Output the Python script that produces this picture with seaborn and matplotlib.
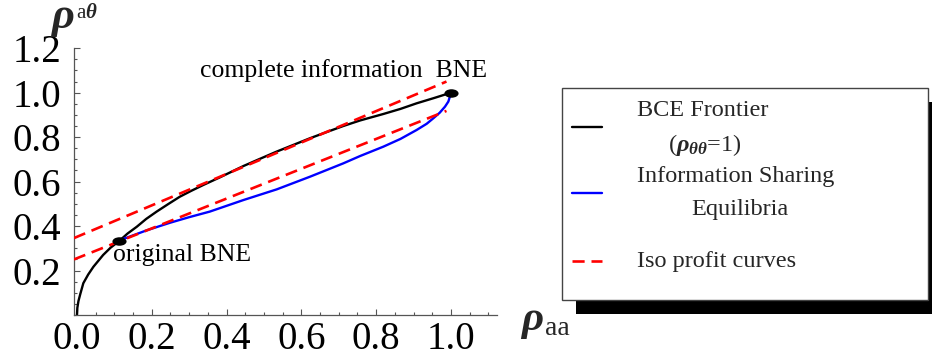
import numpy as np
import matplotlib
matplotlib.use("Agg")
import matplotlib.pyplot as plt
from matplotlib.path import Path
from matplotlib.lines import Line2D
from matplotlib.patches import Rectangle
from matplotlib.ticker import FixedLocator, MultipleLocator, FormatStrFormatter
import seaborn as sns

# ---------------- data ----------------
bce_x = [0.0, 0.001, 0.004, 0.009, 0.017, 0.030, 0.044, 0.07, 0.09, 0.113, 0.135, 0.16,
         0.185, 0.213, 0.245, 0.275, 0.305, 0.338, 0.382, 0.445, 0.490, 0.534, 0.580,
         0.623, 0.668, 0.712, 0.757, 0.819, 0.865, 0.908, 0.955, 1.0]
bce_y = [0.0, 0.032, 0.063, 0.095, 0.143, 0.182, 0.217, 0.27, 0.303, 0.333, 0.366, 0.397,
         0.432, 0.465, 0.500, 0.532, 0.558, 0.585, 0.619, 0.670, 0.703, 0.735, 0.766,
         0.795, 0.823, 0.850, 0.875, 0.904, 0.927, 0.952, 0.976, 1.0]

share_x = [0.113, 0.124, 0.185, 0.249, 0.300, 0.355, 0.445, 0.534, 0.623, 0.712, 0.757,
           0.819, 0.865, 0.908, 0.935, 0.953, 0.970, 0.984, 0.993, 0.997, 1.0]
share_y = [0.333, 0.342, 0.380, 0.415, 0.440, 0.465, 0.517, 0.565, 0.622, 0.682, 0.715,
           0.757, 0.792, 0.832, 0.860, 0.885, 0.910, 0.937, 0.960, 0.982, 1.0]

iso_hi_x = [-0.008, 0.988]
iso_hi_y = [0.346, 1.050]
iso_lo_x = [-0.008, 0.988]
iso_lo_y = [0.250, 0.918]

bne_x = [0.113, 1.0]
bne_y = [0.333, 1.0]

x_ticks = [0.0, 0.2, 0.4, 0.6, 0.8, 1.0]
y_ticks = [0.2, 0.4, 0.6, 0.8, 1.0, 1.2]

legend_labels = ["BCE Frontier", r"($\mathbfit{\rho}_{\mathbfit{\theta\theta}}$=1)",
                 "Information Sharing", "Equilibria", "Iso profit curves"]

# ---------------- style ----------------
sns.set_theme(style="white")
plt.rcParams["font.family"] = ["Liberation Serif", "DejaVu Serif"]
plt.rcParams["mathtext.fontset"] = "custom"
plt.rcParams["mathtext.rm"] = "Liberation Serif"
plt.rcParams["mathtext.it"] = "Liberation Serif:italic"
plt.rcParams["mathtext.bf"] = "Liberation Serif:bold"
plt.rcParams["mathtext.bfit"] = "Liberation Serif:italic:bold"

W, H = 932, 364
fig = plt.figure(figsize=(W / 100, H / 100), dpi=100)
fig.patch.set_facecolor("white")

def fx(px):
    return px / W

def fy(py):
    return 1 - py / H

ax = fig.add_axes([fx(73.6), fy(315), fx(496.6) - fx(73.6), fy(48.2) - fy(315)])
ax.set_facecolor("white")

sns.lineplot(x=bce_x, y=bce_y, ax=ax, color="black", lw=1.7, sort=False,
             estimator=None, zorder=2)
sns.lineplot(x=share_x, y=share_y, ax=ax, color="#0000ff", lw=1.7, sort=False,
             estimator=None, zorder=2)
for xs, ys in [(iso_hi_x, iso_hi_y), (iso_lo_x, iso_lo_y)]:
    sns.lineplot(x=xs, y=ys, ax=ax, color="#ff0000", lw=1.9, sort=False,
                 estimator=None, linestyle=(0, (4.6, 2.6)), zorder=3)

circ = Path.unit_circle()
ell = Path(circ.vertices * np.array([1.0, 0.6]), circ.codes)
sns.scatterplot(x=bne_x, y=bne_y, ax=ax, marker=ell, s=104, color="black",
                edgecolor="black", linewidth=0, zorder=5)

ax.set_xlim(-0.009, 1.122)
ax.set_ylim(0, 1.2)

for side in ["top", "right"]:
    ax.spines[side].set_visible(False)
for side in ["left", "bottom"]:
    ax.spines[side].set_color("#555555")
    ax.spines[side].set_linewidth(0.9)

ax.xaxis.set_major_locator(FixedLocator(x_ticks))
ax.yaxis.set_major_locator(FixedLocator(y_ticks))
ax.xaxis.set_minor_locator(MultipleLocator(0.05))
ax.yaxis.set_minor_locator(MultipleLocator(0.05))
ax.xaxis.set_major_formatter(FormatStrFormatter("%.1f"))
ax.yaxis.set_major_formatter(FormatStrFormatter("%.1f"))
ax.tick_params(which="both", direction="in", bottom=True, left=True,
               color="#555555", width=0.8)
ax.tick_params(which="major", length=4.3, labelsize=28, labelcolor="black")
ax.tick_params(which="minor", length=2.4)
ax.tick_params(axis="x", which="major", pad=4)
ax.tick_params(axis="y", which="major", pad=9)
ax.set_xlabel("")
ax.set_ylabel("")

# annotations
ax.text(0.329, 1.069, "complete information  BNE", fontsize=18.5, color="black",
        ha="left", va="baseline")
ax.text(0.096, 0.243, "original BNE", fontsize=18.5, color="black",
        ha="left", va="baseline")

# axis labels
fig.text(fx(50), fy(28), r"$\mathbfit{\rho}$", fontsize=32, ha="left", va="baseline")
fig.text(fx(76), fy(18), r"$\mathrm{a}\mathbfit{\theta}$", fontsize=15, ha="left",
         va="baseline")
fig.text(fx(520), fy(330), r"$\mathbfit{\rho}$", fontsize=31, ha="left", va="baseline")
fig.text(fx(545), fy(334.7), "aa", fontsize=20, ha="left", va="baseline")

# legend (box with offset shadow)
fig.add_artist(Rectangle((fx(561.7 + 14), fy(300 + 14)), fx(927.7) - fx(561.7),
                         fy(88.3) - fy(300), transform=fig.transFigure,
                         facecolor="black", edgecolor="none", zorder=1))
fig.add_artist(Rectangle((fx(561.7), fy(300)), fx(927.7) - fx(561.7),
                         fy(88.3) - fy(300), transform=fig.transFigure,
                         facecolor="white", edgecolor="#444444", lw=1.0, zorder=2))
for y, c, ls in [(126.7, "black", "-"), (193.3, "#0000ff", "-"),
                 (260.7, "#ff0000", (0, (4.6, 2.6)))]:
    fig.add_artist(Line2D([fx(572), fx(602)], [fy(y), fy(y)], transform=fig.transFigure,
                          color=c, lw=1.9 if c == "#ff0000" else 1.7, linestyle=ls,
                          zorder=3))
leg_pos = [(636.7, 110, "left"), (705, 145, "center"), (636.7, 176.7, "left"),
           (740, 210, "center"), (636.7, 261.7, "left")]
for (x, y, ha), lab in zip(leg_pos, legend_labels):
    fig.text(fx(x), fy(y), lab, fontsize=17.5, ha=ha, va="center", zorder=4)

fig.savefig("out.png", dpi=100, facecolor="white")
